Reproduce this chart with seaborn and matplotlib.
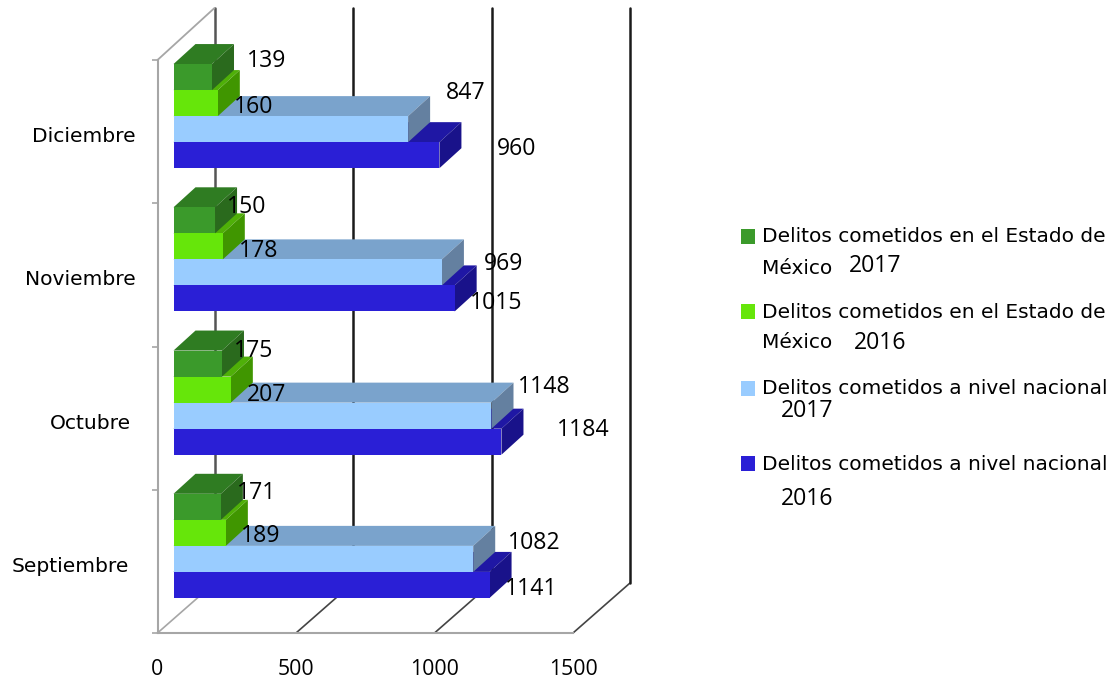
import pandas as pd
import seaborn as sns
import matplotlib.pyplot as plt
from matplotlib.patches import Polygon, Rectangle
from matplotlib.lines import Line2D
from matplotlib.transforms import ScaledTranslation, IdentityTransform

# datos
meses = ['Diciembre', 'Noviembre', 'Octubre', 'Septiembre']
series = [
    'Delitos cometidos en el Estado de México 2017',
    'Delitos cometidos en el Estado de México 2016',
    'Delitos cometidos a nivel nacional 2017',
    'Delitos cometidos a nivel nacional 2016',
]
edomex_2017 = [139, 150, 175, 171]
edomex_2016 = [160, 178, 207, 189]
nacional_2017 = [847, 969, 1148, 1082]
nacional_2016 = [960, 1015, 1184, 1141]
ticks_x = [0, 500, 1000, 1500]

# colores: frente, arriba, lado
colores = ['#3B9A2B', '#66E60A', '#99CCFF', '#2A1FD6']
arriba = ['#2F7C22', '#4FB008', '#7AA3CC', '#1F17A4']
lado = ['#2A6A1D', '#409600', '#6480A0', '#19128A']

# ajustes de las etiquetas en pixeles (desde el final de cada barra), por serie y mes
nudges = [
    [(55, 16), (32, 13), (32, 13), (36, 14)],
    [(36, -4), (36, -5), (36, -5), (35, -3)],
    [(58, 36), (62, 8), (53, 29), (61, 16)],
    [(77, 6), (42, -5), (82, 12), (42, -4)],
]
nudges_mes = [(0, -3), (0, -3), (-4, -3), (-6, -3)]

# caja 3D en pixeles
PISO_X, PISO_Y = 57, 50
BARRA_X, BARRA_Y = 16, 15.5
FONDO_X, FONDO_Y = 22, 20
GRIS = '#A6A6A6'

df = pd.DataFrame({
    'mes': meses * 4,
    'serie': [s for s in series for _ in meses],
    'valor': edomex_2017 + edomex_2016 + nacional_2017 + nacional_2016,
})

sns.set_theme(style='white')
plt.rcParams['font.family'] = ['Open Sans', 'DejaVu Sans']

fig = plt.figure(figsize=(11.2, 6.84), dpi=100)
ax = fig.add_axes([157.5 / 1120, 1 - 633 / 684, 415.5 / 1120, 573 / 684])
ax.patch.set_alpha(0)

sns.barplot(data=df, y='mes', x='valor', hue='serie', order=meses, hue_order=series,
            palette=colores, width=0.727, gap=0, saturation=1, errorbar=None,
            legend=False, ax=ax)
ax.set_xlim(0, 1500)
ax.set_ylim(3.5, -0.5)
ax.set_xlabel('')
ax.set_ylabel('')

for lado_sp in ['top', 'right']:
    ax.spines[lado_sp].set_visible(False)
for lado_sp in ['left', 'bottom']:
    ax.spines[lado_sp].set_color(GRIS)
    ax.spines[lado_sp].set_linewidth(1.5)

ax.set_xticks(ticks_x)
ax.tick_params(axis='x', length=4.5, width=1.2, color=GRIS, pad=14, labelsize=15.3, labelcolor='black')
ax.tick_params(axis='y', which='major', length=0, pad=16, labelsize=14.6, labelcolor='black')
ax.set_yticks([i - 0.5 for i in range(5)], minor=True)
ax.tick_params(axis='y', which='minor', length=4.5, width=1.2, color=GRIS, left=True)

for etiqueta, (nx, ny) in zip(ax.get_yticklabels(), nudges_mes):
    etiqueta.set_family('DejaVu Sans')
    etiqueta.set_transform(etiqueta.get_transform() + ScaledTranslation(nx / 100, ny / 100, fig.dpi_scale_trans))

fig.canvas.draw()
a_pix = ax.transData.transform
sin_tr = IdentityTransform()

# piso y paredes de atras
y_base = ax.get_ylim()[0]
y_tope = ax.get_ylim()[1]
for t in ticks_x:
    x0, y0 = a_pix((t, y_base))
    x1, y1 = a_pix((t, y_tope))
    color = '#555555' if t == 0 else '#1A1A1A'
    ax.add_line(Line2D([x0, x0 + PISO_X], [y0, y0 + PISO_Y], color=GRIS if t == 0 else '#444444',
                       lw=1.2, transform=sin_tr, clip_on=False, zorder=0.5))
    ax.add_line(Line2D([x0 + PISO_X, x0 + PISO_X], [y0 + PISO_Y, y1 + PISO_Y + 2], color=color,
                       lw=1.8, transform=sin_tr, clip_on=False, zorder=0.5))
x0, y0 = a_pix((0, y_tope))
ax.add_line(Line2D([x0, x0 + PISO_X], [y0, y0 + PISO_Y + 2], color=GRIS, lw=1.3,
                   transform=sin_tr, clip_on=False, zorder=0.5))

# barras corridas hacia el fondo, con su cara de arriba y de lado
corrimiento = ax.transData + ScaledTranslation(BARRA_X / 100, BARRA_Y / 100, fig.dpi_scale_trans)
for i, contenedor in enumerate(ax.containers):
    z = 3 + i * -0.1 + 0.5
    for j, barra in enumerate(contenedor):
        (xa, ya), (xb, yb) = a_pix(barra.get_bbox().get_points())
        y_inf, y_sup = min(ya, yb), max(ya, yb)
        xa += BARRA_X
        xb += BARRA_X
        y_inf += BARRA_Y
        y_sup += BARRA_Y
        barra.set_transform(corrimiento)
        barra.set_clip_on(False)
        barra.set_zorder(z + 0.02)
        barra.set_edgecolor('none')
        ax.add_patch(Polygon([(xa, y_sup), (xb, y_sup), (xb + FONDO_X, y_sup + FONDO_Y), (xa + FONDO_X, y_sup + FONDO_Y)],
                             closed=True, fc=arriba[i], ec='none', transform=sin_tr, clip_on=False, zorder=z))
        ax.add_patch(Polygon([(xb, y_inf), (xb + FONDO_X, y_inf + FONDO_Y), (xb + FONDO_X, y_sup + FONDO_Y), (xb, y_sup)],
                             closed=True, fc=lado[i], ec='none', transform=sin_tr, clip_on=False, zorder=z + 0.01))

        nx, ny = nudges[i][j]
        ax.annotate(str(int(barra.get_width())), xy=(xb, (y_inf + y_sup) / 2), xycoords=sin_tr,
                    xytext=(nx, ny), textcoords='offset pixels', ha='center', va='center',
                    fontsize=16.6, color='black', zorder=10, annotation_clip=False)


# leyenda armada a mano, el original mezcla tamanos de letra
def pos(x, y):
    return x / 1120, 1 - y / 684


leyenda = [
    (236, [('Delitos cometidos en el Estado de', 762, 236, 14.5), ('México', 762, 268, 14.5), ('2017', 849, 266, 16.6)]),
    (311, [('Delitos cometidos en el Estado de', 762, 312, 14.5), ('México', 762, 343, 14.5), ('2016', 854, 343, 16.6)]),
    (388, [('Delitos cometidos a nivel nacional', 762, 388, 14.5), ('2017', 781, 411, 16.6)]),
    (463, [('Delitos cometidos a nivel nacional', 762, 465, 14.5), ('2016', 781, 499, 16.6)]),
]
for color, (y_cuadro, textos) in zip(colores, leyenda):
    fig.add_artist(Rectangle(pos(741, y_cuadro + 7.5), 14 / 1120, 15 / 684, fc=color, ec='none',
                             transform=fig.transFigure))
    for texto, x, y, tam in textos:
        familia = 'Open Sans' if texto.isdigit() else 'DejaVu Sans'
        fig.text(*pos(x, y), texto, fontsize=tam, family=familia, color='black', ha='left', va='center')

plt.savefig('out.png', dpi=100)
plt.close()
